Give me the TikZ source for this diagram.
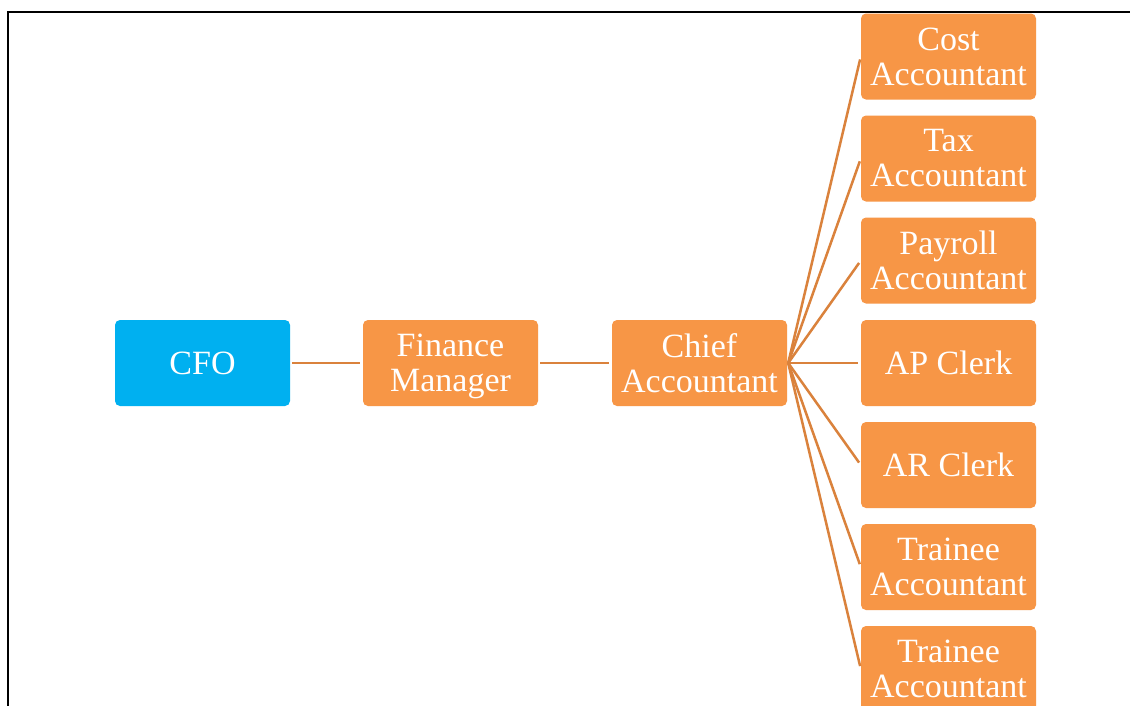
\documentclass[tikz,border=0pt]{standalone}
\usepackage{fontspec}
\setmainfont{Liberation Serif}
\definecolor{cfoblue}{RGB}{0,176,240}
\definecolor{staffor}{RGB}{247,150,70}
\definecolor{linkor}{RGB}{218,130,60}
\newcommand{\nodepth}[1]{\raisebox{0pt}[\height][0pt]{#1}}
\begin{document}
\begin{tikzpicture}[x=1pt,y=-1pt,
  rolebox/.style={rectangle, rounded corners=5pt, minimum width=175pt, minimum height=86pt,
    inner sep=0pt, align=center, text=white, font=\fontsize{34}{35}\selectfont},
  link/.style={draw=linkor, line width=2.5pt}]
\clip (0,0) rectangle (1130,705);
\fill[white] (0,0) rectangle (1130,705);
% page frame
\draw[line width=2pt] (8,710) -- (8,12) -- (1135,12);

% chain of command
\node[rolebox, fill=cfoblue] (cfo) at (202.5,363) {CFO};
\node[rolebox, fill=staffor] (fm) at (450.5,363) {Finance\\\nodepth{Manager}};
\node[rolebox, fill=staffor] (chief) at (699.5,363) {Chief\\Accountant};

% staff under the chief accountant
\node[rolebox, fill=staffor] (cost) at (948.5,56.5) {Cost\\Accountant};
\node[rolebox, fill=staffor] (tax) at (948.5,158.5) {Tax\\Accountant};
\node[rolebox, fill=staffor] (payroll) at (948.5,260.5) {Payroll\\Accountant};
\node[rolebox, fill=staffor] (ap) at (948.5,363) {AP Clerk};
\node[rolebox, fill=staffor] (ar) at (948.5,465) {AR Clerk};
\node[rolebox, fill=staffor] (trainA) at (948.5,567) {Trainee\\Accountant};
\node[rolebox, fill=staffor] (trainB) at (948.5,669) {Trainee\\Accountant};

% connectors
\draw[link, shorten <=2pt, shorten >=3pt] (cfo.east) -- (fm.west);
\draw[link, shorten <=2pt, shorten >=3pt] (fm.east) -- (chief.west);
\foreach \n in {cost,tax,payroll,ap,ar,trainA,trainB}
  \draw[link, shorten >=3pt] ([xshift=1pt]chief.east) -- (\n.west);
\end{tikzpicture}
\end{document}
